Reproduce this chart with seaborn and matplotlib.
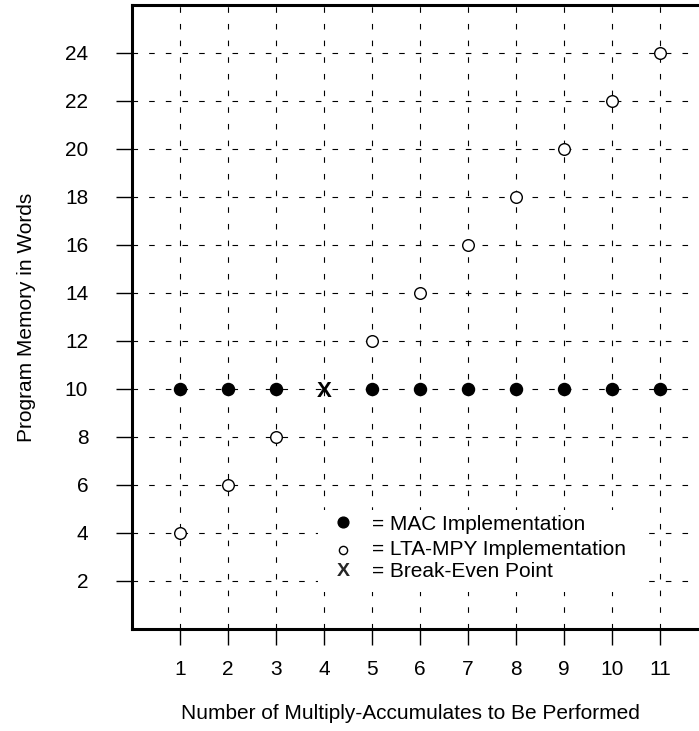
import matplotlib
matplotlib.use("Agg")
import matplotlib.pyplot as plt
from matplotlib.patches import Rectangle
import seaborn as sns
import pandas as pd

mac_x = [1, 2, 3, 5, 6, 7, 8, 9, 10, 11]
mac_y = [10, 10, 10, 10, 10, 10, 10, 10, 10, 10]
lta_x = [1, 2, 3, 5, 6, 7, 8, 9, 10, 11]
lta_y = [4, 6, 8, 12, 14, 16, 18, 20, 22, 24]
breakeven_x = 4
breakeven_y = 10
x_ticks = [1, 2, 3, 4, 5, 6, 7, 8, 9, 10, 11]
y_ticks = [2, 4, 6, 8, 10, 12, 14, 16, 18, 20, 22, 24]
legend_labels = ["= MAC Implementation", "= LTA-MPY Implementation", "= Break-Even Point"]

sns.set_theme(style="white")
plt.rcParams['font.family'] = ['Liberation Sans', 'DejaVu Sans']

W, H = 699, 731
fig = plt.figure(figsize=(W/100, H/100), dpi=100)
left, right, top, bottom = 132, 708, 5, 629
ax = fig.add_axes([left/W, 1-bottom/H, (right-left)/W, (bottom-top)/H])
ax.set_xlim(0, 12)
ax.set_ylim(0, 26)

mac = pd.DataFrame({"x": mac_x, "y": mac_y})
lta = pd.DataFrame({"x": lta_x, "y": lta_y})
sns.scatterplot(data=mac, x="x", y="y", ax=ax, marker="o", s=75, color="black",
                edgecolor="black", linewidth=1, zorder=3)
sns.scatterplot(data=lta, x="x", y="y", ax=ax, marker="o", s=70, facecolor="white",
                edgecolor="black", linewidth=1, zorder=3)
ax.text(breakeven_x, breakeven_y - 0.12, "X", ha="center", va="center", fontsize=16,
        fontweight="bold", color="black", zorder=4)

# legend box (white, borderless) drawn inside axes
ax.add_patch(Rectangle((3.875, 1.54), 10.58 - 3.875, 4.96 - 1.54, facecolor="white",
                       edgecolor="none", zorder=2.5))
lx, tx = 4.40, 5.0
ax.scatter([lx], [4.46], s=60, color="black", zorder=3)
ax.scatter([lx], [3.29], s=35, facecolor="white", edgecolor="black", linewidth=1, zorder=3)
ax.text(lx, 2.375, "X", ha="center", va="center", fontsize=14, fontweight="bold", zorder=4)
for yy, lab in zip([4.125, 3.08, 2.17], legend_labels):
    ax.text(tx, yy, lab, ha="left", va="baseline", fontsize=15, color="black", zorder=4)

ax.set_xticks(x_ticks)
ax.set_yticks(y_ticks)
ax.set_xticklabels([str(v) for v in x_ticks], fontsize=15)
ax.set_yticklabels([str(v) for v in y_ticks], fontsize=15)
ax.grid(True, color="black", linestyle=(0, (5, 10)), linewidth=0.8)
ax.tick_params(axis="both", direction="out", length=11.5, width=1, color="black",
               bottom=True, left=True, labelcolor="black")
ax.tick_params(axis="x", pad=11)
ax.tick_params(axis="y", pad=20)
for s in ["left", "bottom", "top"]:
    ax.spines[s].set_visible(True)
    ax.spines[s].set_linewidth(2.2)
    ax.spines[s].set_color("black")
ax.spines["right"].set_visible(False)

ax.set_xlabel("Number of Multiply-Accumulates to Be Performed", fontsize=15, color="black")
ax.set_ylabel("Program Memory in Words", fontsize=15, color="black")
ax.xaxis.set_label_coords(0.483, (629 - 704) / 624)
ax.yaxis.set_label_coords((36 - 132) / 576, 0.5)

fig.savefig("out.png", dpi=100)
